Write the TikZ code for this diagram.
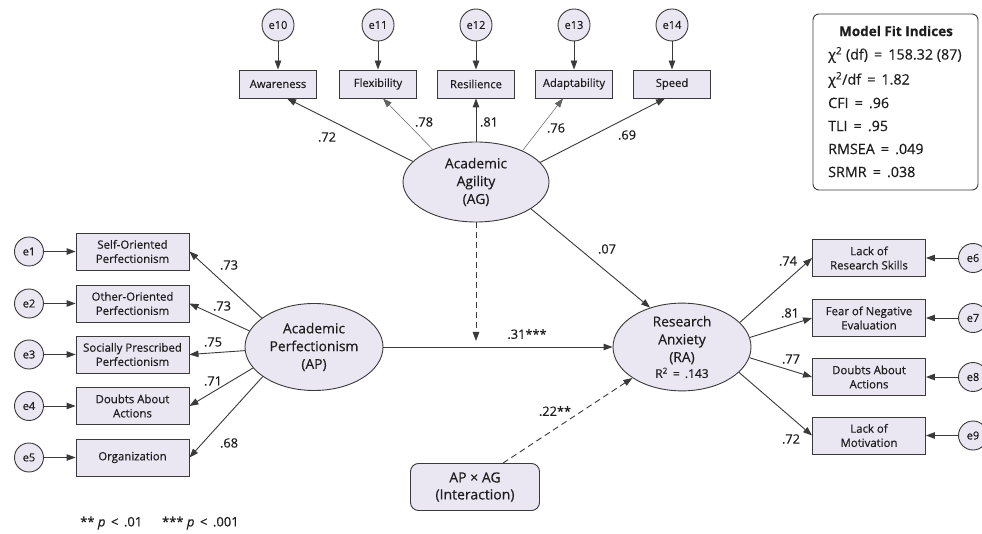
\documentclass[tikz,border=0pt]{standalone}
\usepackage{fontspec}
\setmainfont{Open Sans}[FakeBold=0.4]
\usetikzlibrary{arrows.meta,calc,shapes.geometric}
\definecolor{fillc}{HTML}{EAE6F2}
\definecolor{linec}{HTML}{3A3A3A}
\definecolor{txtc}{HTML}{1E1E1E}
\begin{document}
\begin{tikzpicture}[x=1pt,y=-1pt,
  every node/.style={text=txtc},
  ind/.style={draw=linec, fill=fillc, line width=0.9pt, minimum width=113pt, minimum height=37pt, align=center, inner sep=1pt, font=\fontsize{11.4}{14.2}\selectfont},
  topind/.style={draw=linec, fill=fillc, line width=0.9pt, minimum width=77pt, minimum height=28pt, align=center, inner sep=1pt, font=\fontsize{11.2}{13}\selectfont},
  lat/.style={ellipse, draw=linec, fill=fillc, line width=0.9pt, minimum width=138pt, minimum height=87pt, align=center, inner sep=0pt, font=\fontsize{13.8}{17.8}\selectfont},
  err/.style={circle, draw=linec, fill=fillc, line width=0.9pt, minimum size=29pt, inner sep=0pt, font=\fontsize{11}{12}\selectfont},
  arr/.style={draw=linec, line width=0.9pt, -{Triangle[length=9pt,width=6.5pt]}},
  lab/.style={font=\fontsize{12.8}{14}\selectfont, inner sep=0pt},
  fit/.style={font=\fontsize{14.3}{16}\selectfont, anchor=west, inner sep=0pt}
]
\useasboundingbox (0,0) rectangle (982,534);
\clip (0,0) rectangle (982,534);
\fill[white] (0,0) rectangle (982,534);

% Academic Agility block
\node[lat, minimum width=146pt, minimum height=80pt] (AG) at (476,182) {Academic\\Agility\\(AG)};
\node[topind] (aw) at (278,84) {Awareness};
\node[topind] (fl) at (378,84) {Flexibility};
\node[topind] (re) at (476,84) {Resilience};
\node[topind] (ad) at (574,84) {Adaptability};
\node[topind] (sp) at (672,84) {Speed};
\node[err, minimum size=32pt] (e10) at (278,25) {e10};
\node[err, minimum size=32pt] (e11) at (378,25) {e11};
\node[err, minimum size=32pt] (e12) at (476,25) {e12};
\node[err, minimum size=32pt] (e13) at (574,25) {e13};
\node[err, minimum size=32pt] (e14) at (672,25) {e14};
\foreach \e/\b in {e10/aw,e11/fl,e12/re,e13/ad,e14/sp} \draw[arr] (\e) -- (\b);
\draw[arr] (AG.162) -- ($(aw.south)+(9,0)$);
\draw[arr, line width=0.5pt, draw=linec!80] (AG.143) -- ($(fl.south)+(5,0)$);
\draw[arr] (AG.north) -- (re.south);
\draw[arr, line width=0.5pt, draw=linec!80] (AG.34) -- ($(ad.south)+(-11,0)$);
\draw[arr] (AG.17) -- ($(sp.south)+(-7,0)$);
\node[lab] (l72) at (327,137) {.72};
\node[lab] (l78) at (424,122) {.78};
\node[lab] (l81) at (489,122) {.81};
\node[lab] (l76) at (556,128) {.76};
\node[lab] (l69) at (627,135) {.69};

% Model fit box
\draw[draw=linec, line width=0.9pt, rounded corners=6pt] (813,14) rectangle (978,190);
\node[font=\bfseries\fontsize{13.5}{15}\selectfont, inner sep=0pt] (mfi) at (896,31) {Model Fit Indices};
\node[fit] (f1) at (828,55) {χ\textsuperscript{2} (df) \,=\, 158.32 (87)};
\node[fit] (f2) at (828,80) {χ\textsuperscript{2}/df \,=\, 1.82};
\node[fit] (f3) at (828,103) {CFI \,=\, .96};
\node[fit] (f4) at (828,126) {TLI \,=\, .95};
\node[fit] (f5) at (828,149) {RMSEA \,=\, .049};
\node[fit] (f6) at (828,172) {SRMR \,=\, .038};

% Academic Perfectionism block
\node[lat] (AP) at (314,347) {Academic\\Perfectionism\\(AP)};
\node[ind] (b1) at (132.5,251.5) {Self-Oriented\\Perfectionism};
\node[ind] (b2) at (132.5,303.5) {Other-Oriented\\Perfectionism};
\node[ind] (b3) at (132.5,354.5) {Socially Prescribed\\Perfectionism};
\node[ind] (b4) at (132.5,406) {Doubts About\\Actions};
\node[ind] (b5) at (132.5,457.5) {Organization};
\node[err] (e1) at (29,251.5) {e1};
\node[err] (e2) at (29,303.5) {e2};
\node[err] (e3) at (29,354.5) {e3};
\node[err] (e4) at (29,406) {e4};
\node[err] (e5) at (29,457.5) {e5};
\foreach \e/\b in {e1/b1,e2/b2,e3/b3,e4/b4,e5/b5} \draw[arr] (\e) -- (\b);
\draw[arr] (AP.151) -- (b1.east);
\draw[arr] (AP.166) -- (b2.east);
\draw[arr] (AP.183) -- (b3.east);
\draw[arr] (AP.199) -- (b4.east);
\draw[arr] (AP.210) -- (b5.east);
\node[lab] (la1) at (229,265) {.73};
\node[lab] (la2) at (222,306) {.73};
\node[lab] (la3) at (213,342) {.75};
\node[lab] (la4) at (213,381) {.71};
\node[lab] (la5) at (229,443) {.68};

% Research Anxiety block
\node[lat] (RA) at (682,347) {Research\\Anxiety\\(RA)\\[-2pt]{\fontsize{12}{14}\selectfont R\textsuperscript{2} \,=\, .143}};
\node[ind] (r1) at (869,258) {Lack of\\Research Skills};
\node[ind] (r2) at (869,318) {Fear of Negative\\Evaluation};
\node[ind] (r3) at (869,377) {Doubts About\\Actions};
\node[ind] (r4) at (869,435.5) {Lack of\\Motivation};
\node[err] (e6) at (973,258) {e6};
\node[err] (e7) at (973,318) {e7};
\node[err] (e8) at (973,377) {e8};
\node[err] (e9) at (973,435.5) {e9};
\foreach \e/\b in {e6/r1,e7/r2,e8/r3,e9/r4} \draw[arr] (\e) -- (\b);
\draw[arr] (RA.23) -- (r1.west);
\draw[arr] (RA.8) -- (r2.west);
\draw[arr] (RA.351) -- (r3.west);
\draw[arr] (RA.336) -- (r4.west);
\node[lab] (lr1) at (788,261) {.74};
\node[lab] (lr2) at (790,313) {.81};
\node[lab] (lr3) at (791,359) {.77};
\node[lab] (lr4) at (791,439) {.72};

% Structural paths
\node[draw=linec, fill=fillc, line width=0.9pt, rounded corners=8pt, minimum width=129pt, minimum height=47pt, align=center, inner sep=1pt, font=\fontsize{14}{17}\selectfont] (ix) at (475,487) {AP × AG\\(Interaction)};
\draw[arr] (AP) -- (RA);
\draw[arr] (AG.334) -- (RA.129);
\coordinate (mod) at (476,341);
\draw[arr, dash pattern=on 6pt off 4pt] (AG.south) -- (mod);
\draw[arr, dash pattern=on 6pt off 4pt] ($(ix.north)+(28,0)$) -- (RA.212);
\node[lab] (l31) at (527,334) {.31***};
\node[lab] (l07) at (607,249) {.07};
\node[lab] (l22) at (555,411) {.22**};

% footnote
\node[lab, anchor=west, font=\fontsize{13}{14}\selectfont] (note) at (80,523) {** \textit{p} \,<\, .01 \quad\ *** \textit{p} \,<\, .001};
\end{tikzpicture}
\end{document}
